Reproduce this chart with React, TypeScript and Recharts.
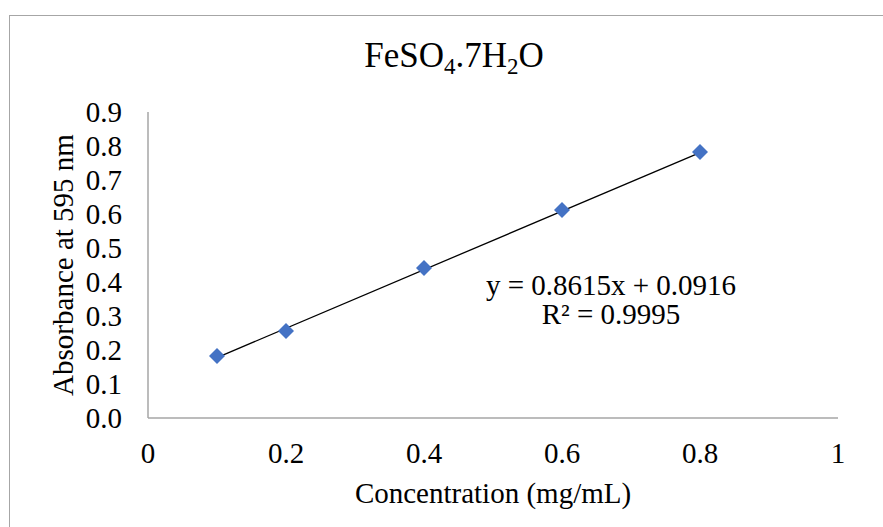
import { ScatterChart, Scatter, XAxis, YAxis, ReferenceLine, Label } from "recharts";

const concentration = [0.1, 0.2, 0.4, 0.6, 0.8];
const absorbance = [0.182, 0.256, 0.441, 0.612, 0.782];
const xTicks = [0, 0.2, 0.4, 0.6, 0.8, 1];
const yTicks = [0, 0.1, 0.2, 0.3, 0.4, 0.5, 0.6, 0.7, 0.8, 0.9];
const slope = 0.8615;
const intercept = 0.0916;

const points = concentration.map((x, i) => ({ x, y: absorbance[i] }));
const fitStart = { x: concentration[0], y: slope * concentration[0] + intercept };
const fitEnd = {
  x: concentration[concentration.length - 1],
  y: slope * concentration[concentration.length - 1] + intercept,
};

const FONT = '"Liberation Serif", "Times New Roman", serif';
const AXIS_COLOR = "#a6a6a6";

const Diamond = (props: any) => {
  const { cx, cy } = props;
  const r = 8;
  return (
    <polygon
      points={`${cx},${cy - r} ${cx + r},${cy} ${cx},${cy + r} ${cx - r},${cy}`}
      fill="#4472C4"
    />
  );
};

export default function App() {
  return (
    <div
      style={{
        position: "absolute",
        left: 0,
        top: 0,
        width: 883,
        height: 527,
        overflow: "hidden",
        background: "#fff",
        fontFamily: FONT,
      }}
    >
      <div
        style={{
          position: "absolute",
          left: 9,
          top: 15,
          width: 900,
          height: 600,
          borderTop: `1.5px solid ${AXIS_COLOR}`,
          borderLeft: `1.5px solid ${AXIS_COLOR}`,
        }}
      />
      <div
        style={{
          position: "absolute",
          left: 9,
          width: 890,
          top: 36,
          textAlign: "center",
          fontSize: 35,
          lineHeight: "40px",
          color: "#000",
        }}
      >
        FeSO<sub style={{ fontSize: 23, verticalAlign: "-7px" }}>4</sub>.7H
        <sub style={{ fontSize: 23, verticalAlign: "-7px" }}>2</sub>O
      </div>
      <ScatterChart
        width={883}
        height={527}
        margin={{ top: 112, right: 45, bottom: 79, left: 88 }}
        style={{ position: "absolute", left: 0, top: 0 }}
      >
        <XAxis
          type="number"
          dataKey="x"
          domain={[0, 1]}
          ticks={xTicks}
          tickFormatter={(v: number) => String(v)}
          height={30}
          stroke={AXIS_COLOR}
          strokeWidth={1.5}
          tickLine={false}
          tickSize={0}
          tickMargin={24}
          tick={{ fill: "#000", fontSize: 29, fontFamily: FONT }}
          interval={0}
        >
          <Label
            value="Concentration (mg/mL)"
            position="bottom"
            offset={34}
            style={{ fill: "#000", fontSize: 29, fontFamily: FONT }}
          />
        </XAxis>
        <YAxis
          type="number"
          dataKey="y"
          domain={[0, 0.9]}
          ticks={yTicks}
          tickFormatter={(v: number) => v.toFixed(1)}
          width={60}
          stroke={AXIS_COLOR}
          strokeWidth={1.5}
          tickLine={false}
          tickSize={0}
          tickMargin={26}
          tick={{ fill: "#000", fontSize: 29, fontFamily: FONT }}
          interval={0}
        >
          <Label
            value="Absorbance at 595 nm"
            angle={-90}
            position="center"
            dx={-148 + 63 + 30}
            style={{ fill: "#000", fontSize: 29, fontFamily: FONT, textAnchor: "middle" }}
          />
        </YAxis>
        <ReferenceLine
          segment={[fitStart, fitEnd]}
          stroke="#000"
          strokeWidth={1.3}
          ifOverflow="visible"
        />
        <Scatter data={points} shape={<Diamond />} isAnimationActive={false} />
      </ScatterChart>
      <div
        style={{
          position: "absolute",
          left: 611 - 150,
          width: 300,
          top: 271,
          textAlign: "center",
          fontSize: 29,
          lineHeight: "29px",
          color: "#000",
        }}
      >
        y = 0.8615x + 0.0916
        <br />
        R² = 0.9995
      </div>
    </div>
  );
}
